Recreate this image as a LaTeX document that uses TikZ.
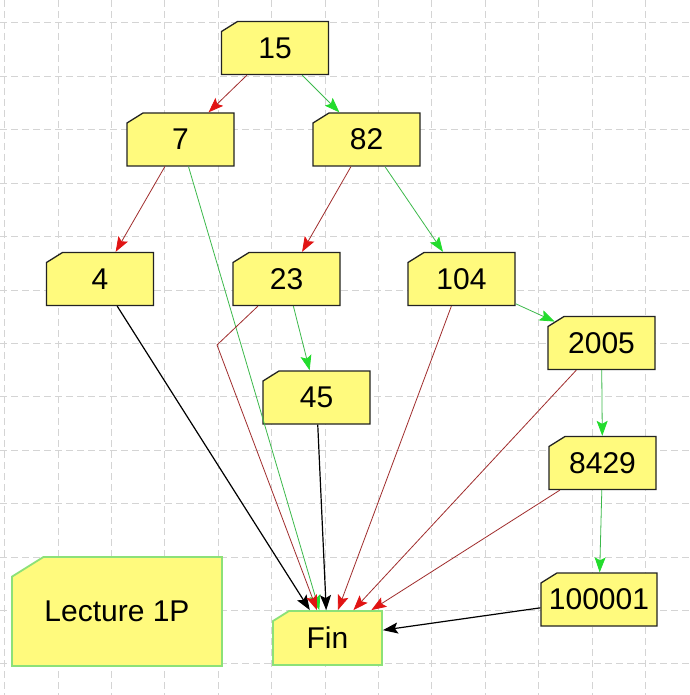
\documentclass[tikz,border=0pt]{standalone}
\usepackage{fontspec}
\setmainfont{Liberation Sans}
\usetikzlibrary{arrows.meta, shapes.misc}

\definecolor{boxfill}{RGB}{255,250,125}
\definecolor{boxline}{RGB}{35,35,35}
\definecolor{finline}{RGB}{140,225,120}
\definecolor{gridline}{RGB}{212,212,212}
\definecolor{redline}{RGB}{160,45,45}
\definecolor{redtip}{RGB}{225,20,20}
\definecolor{greenline}{RGB}{60,185,75}
\definecolor{greentip}{RGB}{35,220,45}

\tikzset{
  box/.style={chamfered rectangle, chamfered rectangle corners=north west,
    chamfered rectangle angle=58, chamfered rectangle xsep=8pt,
    chamfered rectangle ysep=5pt,
    draw=boxline, line width=1.3pt, fill=boxfill, inner sep=2pt,
    minimum width=107pt, minimum height=53pt,
    font=\fontsize{30}{36}\selectfont},
  endbox/.style={box, draw=finline, line width=1.8pt},
  gridstyle/.style={gridline, line width=1pt, dash pattern=on 7pt off 4pt},
  redarrow/.style={draw=redline, line width=0.8pt,
    -{Stealth[length=15pt,width=11pt,inset=3pt,color=redtip]}},
  greenarrow/.style={draw=greenline, line width=0.8pt,
    -{Stealth[length=15pt,width=11pt,inset=3pt,color=greentip]}},
  blackarrow/.style={draw=black, line width=1.2pt,
    -{Stealth[length=15pt,width=11pt,inset=3pt]}}
}

\begin{document}
\begin{tikzpicture}[x=1pt,y=-1pt]
    \useasboundingbox[fill=white] (0,0) rectangle (689,695);
    \foreach \i in {0,...,12} {
        \draw[gridstyle] (4.6+53.4*\i,0) -- (4.6+53.4*\i,695);
        \draw[gridstyle] (0,23+53.4*\i) -- (689,23+53.4*\i);
    }

    \node[box] (15) at (275,48) {15};
    \node[box] (7) at (180.5,139.5) {7};
    \node[box] (82) at (366.5,139.5) {82};
    \node[box] (4) at (100,279) {4};
    \node[box] (23) at (286.5,279) {23};
    \node[box] (104) at (461.5,279) {104};
    \node[box] (45) at (316.5,397.5) {45};
    \node[box] (2005) at (601.5,343) {2005};
    \node[box] (8429) at (602.5,463) {8429};
    \node[box, inner xsep=0pt] (100001) at (599,599.5) {100001};
    \node[endbox, minimum width=109pt, minimum height=54pt] (fin) at (327.5,638) {Fin};
    \node[endbox, minimum width=210pt, minimum height=109pt,
        chamfered rectangle xsep=17pt, chamfered rectangle ysep=9pt] (lecture) at (117,611.5) {Lecture 1P};
    \coordinate (bend23) at (217,345);

    \draw[redarrow] (15) -- (7);
    \draw[greenarrow] (15) -- (82);
    \draw[redarrow] (7) -- (4);
    \draw[greenarrow] (7) -- (fin);
    \draw[redarrow] (82) -- (23);
    \draw[greenarrow] (82) -- (104);
    \draw[blackarrow] (4) -- (fin);
    \draw[redarrow] (23) -- (bend23) -- (fin);
    \draw[greenarrow] (23) -- (45);
    \draw[blackarrow] (45) -- (fin);
    \draw[redarrow] (104) -- (fin);
    \draw[greenarrow] (104) -- (2005);
    \draw[redarrow] (2005) -- (fin);
    \draw[greenarrow] (2005) -- (8429);
    \draw[redarrow] (8429) -- (fin);
    \draw[greenarrow] (8429) -- (100001);
    \draw[blackarrow] (100001) -- (fin);
\end{tikzpicture}
\end{document}
